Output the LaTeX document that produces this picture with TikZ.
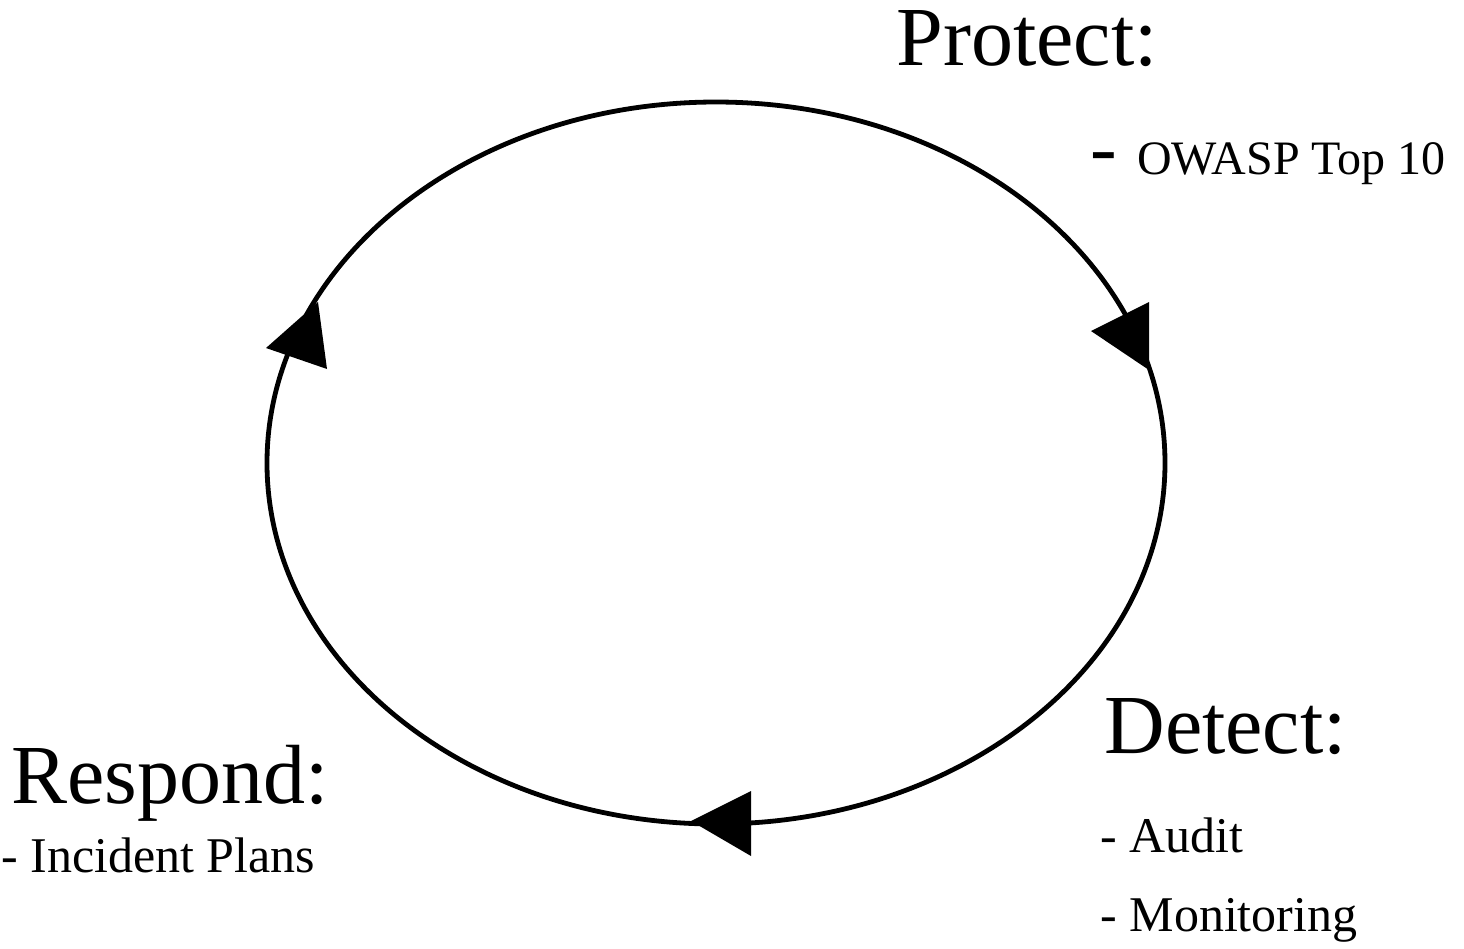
\documentclass[tikz,border=0pt]{standalone}
\usepackage{fontspec}
\setmainfont{Liberation Serif}
\usepackage{tikz}
\usetikzlibrary{arrows}

\tikzset{
  phase/.style={anchor=base west, inner sep=0pt, font=\fontsize{42}{50}\selectfont},
  item/.style={anchor=base west, inner sep=0pt, font=\fontsize{25}{30}\selectfont},
  tip/.style={fill=black}
}

\begin{document}
\begin{tikzpicture}[x=0.5pt, y=-0.5pt]
    \useasboundingbox (0,0) rectangle (1464,949);

    % Le cycle
    \draw[line width=2.4pt] (716,463) ellipse [x radius=224.5pt, y radius=180.5pt];

    % Les pointes de fleche (sens horaire)
    \fill[tip] (1091,331) -- (1149,302) -- (1149,370) -- cycle;
    \fill[tip] (691,821) -- (751,791) -- (751,856) -- cycle;
    \fill[tip] (266,348) -- (318,302) -- (327,369) -- cycle;

    % Protect
    \node[phase] (protect) at (896,65) {Protect:};
    \node[anchor=base west, inner sep=0pt] (owasp) at (1090,174)
        {{\fontsize{40}{40}\selectfont -}\hspace{10pt}{\fontsize{24}{29}\selectfont OWASP Top 10}};

    % Detect
    \node[phase] (detect) at (1104,753) {Detect:};
    \node[item] (audit) at (1100,852) {- Audit};
    \node[item] (monitoring) at (1100,931) {- Monitoring};

    % Respond
    \node[phase] (respond) at (11,803) {Respond:};
    \node[item] (incident) at (1,872) {- Incident Plans};
\end{tikzpicture}
\end{document}
